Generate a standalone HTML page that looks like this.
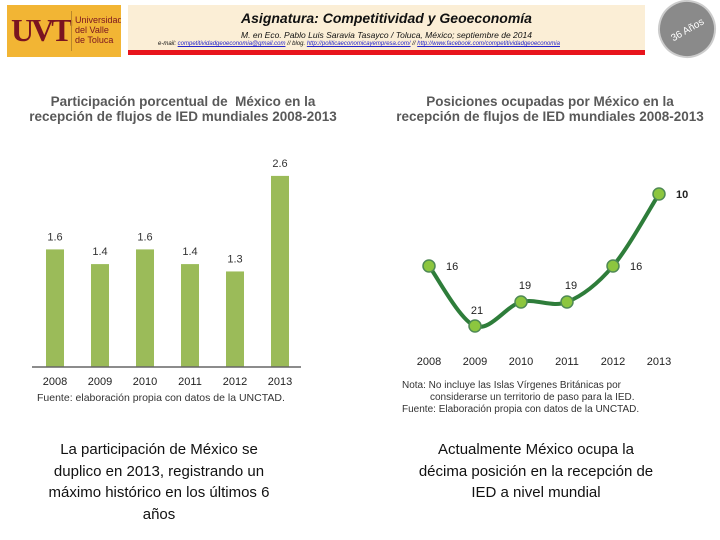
<!DOCTYPE html>
<html><head><meta charset="utf-8"><style>
body{margin:0;width:720px;height:540px;background:#fff;position:relative;overflow:hidden;font-family:"Liberation Sans",sans-serif}
.a{position:absolute}
.t{font-weight:bold;color:#595959;font-size:13.5px;text-align:center;line-height:15px}
.b{font-family:"Liberation Sans",sans-serif;font-size:15px;color:#111;text-align:center;line-height:21.5px;white-space:nowrap}
</style></head><body>
<div class="a" style="left:7px;top:5px;width:114px;height:52px;background:#f2b534;overflow:hidden">
 <div class="a" style="left:4px;top:7px;font:bold 32px 'Liberation Serif',serif;color:#7a1420;letter-spacing:-3px">UVT</div>
 <div class="a" style="left:64px;top:6px;width:1px;height:40px;background:#b8862a"></div>
 <div class="a" style="left:68px;top:10px;font-size:9px;line-height:10px;color:#7a1420">Universidad<br>del Valle<br>de Toluca</div>
</div>
<div class="a" style="left:128px;top:5px;width:517px;height:46px;background:#fbeed6">
 <div class="a" style="left:0;width:517px;top:5px;text-align:center;font:bold italic 14px 'Liberation Sans',sans-serif;color:#111">Asignatura: Competitividad y Geoeconomía</div>
 <div class="a" style="left:0;width:517px;top:25px;text-align:center;font:italic 8.5px 'Liberation Sans',sans-serif;color:#111">M. en Eco. Pablo Luis Saravia Tasayco / Toluca, México; septiembre de 2014</div>
 <div class="a" style="left:30px;top:36px;font:italic 6px 'Liberation Sans',sans-serif;color:#111">e-mail: <u style="color:#22c">competitividadgeoeconomia@gmail.com</u> // blog. <u style="color:#22c">http://politicaeconomicayempresa.com/</u> // <u style="color:#22c">http://www.facebook.com/competitividadgeoeconomia</u></div>
</div>
<div class="a" style="left:128px;top:50px;width:517px;height:5px;background:#e8141c"></div>
<div class="a" style="left:658px;top:0px;width:58px;height:58px;border-radius:50%;background:#8a8a8a;border:2px solid #ccc;box-sizing:border-box;color:#fff;font-size:10px;text-align:center;line-height:58px;transform:rotate(-30deg)">36 Años</div>

<div class="a t" style="left:28px;top:94px;width:310px">Participación porcentual de&nbsp; México en la<br>recepción de flujos de IED mundiales 2008-2013</div>
<div class="a t" style="left:392px;top:94px;width:316px">Posiciones ocupadas por México en la<br>recepción de flujos de IED mundiales 2008-2013</div>

<svg class="a" style="left:0;top:0" width="720" height="540">
 <g id="bars"></g><g id="line"></g>
 <text x="37" y="401" font-size="10.5" fill="#333" font-family="Liberation Sans">Fuente: elaboración propia con datos de la UNCTAD.</text>
 <text x="402" y="388" font-size="10" fill="#333" font-family="Liberation Sans">Nota: No incluye las Islas Vírgenes Británicas por</text>
 <text x="430" y="400" font-size="10" fill="#333" font-family="Liberation Sans">considerarse un territorio de paso para la IED.</text>
 <text x="402" y="412" font-size="10" fill="#333" font-family="Liberation Sans">Fuente: Elaboración propia con datos de la UNCTAD.</text>
</svg>

<div class="a b" style="left:20px;top:439px;width:278px">La participación de México se<br>duplico en 2013, registrando un<br>máximo histórico en los últimos 6<br>años</div>
<div class="a b" style="left:395px;top:439px;width:282px">Actualmente México ocupa la<br>décima posición en la recepción de<br>IED a nivel mundial</div>

<script>
const years=["2008","2009","2010","2011","2012","2013"];
const share=[1.6,1.4,1.6,1.4,1.3,2.6];
const shareLabels=["1.6","1.4","1.6","1.4","1.3","2.6"];
const rank=[16,21,19,19,16,10];
const rankLabels=["16","21","19","19","16","10"];
const NS="http://www.w3.org/2000/svg";
function mk(t,a,p){const e=document.createElementNS(NS,t);for(const k in a)e.setAttribute(k,a[k]);p.appendChild(e);return e;}
const bx=i=>55+i*45, by=v=>367-v*73.5;
const lx=i=>429+i*46, ly=v=>194+(v-10)*12;
const B=document.getElementById('bars');
share.forEach((v,i)=>{
 const r=mk('rect',{x:bx(i)-9,y:by(v),width:18,height:367-by(v),fill:'#9bbb59'},B);
 
 
 const t=mk('text',{x:bx(i),y:by(v)-9,'text-anchor':'middle','font-size':11,fill:'#333','font-family':'Liberation Sans'},B);t.textContent=shareLabels[i];
 
 
 const y=mk('text',{x:bx(i),y:385,'text-anchor':'middle','font-size':11,fill:'#222','font-family':'Liberation Sans'},B);y.textContent=years[i];
 
 
});
const ax=mk('line',{x1:32,x2:301,y1:367,y2:367,stroke:'#666','stroke-width':1.5},B);


const L=document.getElementById('line');
let d='';
rank.forEach((v,i)=>{
 if(i===0){d='M'+lx(i)+' '+ly(v);}else{const x0=lx(i-1),y0=ly(rank[i-1]),x1=lx(i),y1=ly(v),px=i>1?lx(i-2):x0,py=i>1?ly(rank[i-2]):y0,nx=i<rank.length-1?lx(i+1):x1,ny=i<rank.length-1?ly(rank[i+1]):y1;
 d+=` C${x0+(x1-px)/6} ${y0+(y1-py)/6} ${x1-(nx-x0)/6} ${y1-(ny-y0)/6} ${x1} ${y1}`;}
});
const p=mk('path',{d:d,fill:'none',stroke:'#2e7d3a','stroke-width':4},L);


rank.forEach((v,i)=>{
 const c=mk('circle',{cx:lx(i),cy:ly(v),r:6,fill:'#8cc63f',stroke:'#4f8a55','stroke-width':1.5},L);
 
 
 const above=(i===1||i===2||i===3);
 const t=mk('text',{x:above?lx(i)+(i===1?2:4):lx(i)+17,y:above?ly(v)-(i===1?16:17)+4:ly(v)+4,'text-anchor':above?'middle':'start','font-size':11,'font-weight':i===5?'bold':'normal',fill:'#222','font-family':'Liberation Sans'},L);t.textContent=rankLabels[i];
 
 
 const y=mk('text',{x:lx(i),y:365,'text-anchor':'middle','font-size':11,fill:'#222','font-family':'Liberation Sans'},L);y.textContent=years[i];
 
 
});
</script>
</body></html>
